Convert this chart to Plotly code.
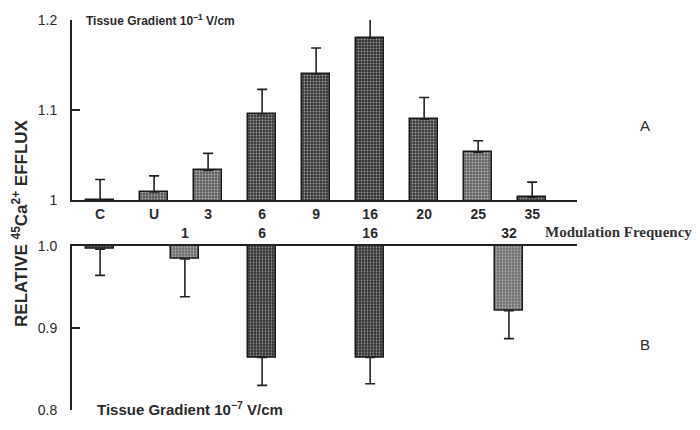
import plotly.graph_objects as go

# Panel A: 10^-1 V/cm tissue gradient, modulation frequencies
a_labels = ["C", "U", "3", "6", "9", "16", "20", "25", "35"]
a_pos = [0, 1, 2, 3, 4, 5, 6, 7, 8]
a_vals = [1.000, 1.009, 1.033, 1.096, 1.140, 1.180, 1.090, 1.053, 1.003]
a_err = [0.023, 0.018, 0.019, 0.027, 0.029, 0.026, 0.024, 0.013, 0.017]
a_colors = ["#3a3a3a", "#585858", "#606060", "#3a3a3a", "#383838",
            "#333333", "#3c3c3c", "#646464", "#3a3a3a"]

# Panel B: 10^-7 V/cm tissue gradient
b_labels = ["", "1", "6", "16", "32"]
b_pos = [0, 1.57, 3, 5, 7.57]
b_vals = [0.996, 0.984, 0.864, 0.864, 0.921]
b_err = [0.032, 0.046, 0.034, 0.032, 0.034]
b_colors = ["#3a3a3a", "#6c6c6c", "#323232", "#323232", "#6e6e6e"]

INK = "#222222"
FONT = "Liberation Sans, Arial, sans-serif"
stipple = dict(shape=".", fgcolor="#8a8a8a", size=3, solidity=0.3)

fig = go.Figure()

# Panel A bars, drawn from zero and clipped at the 1.0 baseline
fig.add_trace(go.Bar(
    x=a_pos, y=a_vals, width=0.52,
    marker=dict(color=a_colors, line=dict(color="#1a1a1a", width=1.5), pattern=stipple),
    xaxis="x", yaxis="y", showlegend=False,
))
fig.add_trace(go.Scatter(
    x=a_pos, y=a_vals, mode="markers", marker=dict(size=0.1, color=INK),
    error_y=dict(type="data", symmetric=False, array=a_err,
                 arrayminus=[0] * len(a_err), color=INK, thickness=1.6, width=5),
    xaxis="x", yaxis="y", showlegend=False, cliponaxis=False,
))

# Panel B bars hang downward from the 1.0 baseline
fig.add_trace(go.Bar(
    x=b_pos, y=[v - 1.0 for v in b_vals], base=1.0, width=0.52,
    marker=dict(color=b_colors, line=dict(color="#1a1a1a", width=1.5), pattern=stipple),
    xaxis="x2", yaxis="y2", showlegend=False,
))
fig.add_trace(go.Scatter(
    x=b_pos, y=b_vals, mode="markers", marker=dict(size=0.1, color=INK),
    error_y=dict(type="data", symmetric=False, array=[0] * len(b_err),
                 arrayminus=b_err, color=INK, thickness=1.6, width=5),
    xaxis="x2", yaxis="y2", showlegend=False, cliponaxis=False,
))

tickfont = dict(family=FONT, size=14, color="#2a2a2a")
xr = [-0.52, 8.83]

fig.update_layout(
    width=700, height=430,
    margin=dict(l=72, r=123, t=20, b=18),
    paper_bgcolor="white", plot_bgcolor="rgba(0,0,0,0)",
    bargap=0,
    xaxis=dict(domain=[0, 1], range=xr, anchor="y", side="bottom",
               tickmode="array", tickvals=a_pos,
               ticktext=[f"<b>{t}</b>" for t in a_labels],
               showline=True, linecolor=INK, linewidth=2, ticks="",
               showgrid=False, zeroline=False, tickfont=tickfont),
    yaxis=dict(domain=[0.538, 1.0], range=[1.0, 1.2], anchor="x",
               tickmode="array", tickvals=[1.0, 1.1, 1.2],
               ticktext=["1", "1.1", "1.2"],
               showline=True, linecolor=INK, linewidth=2,
               ticks="inside", ticklen=8, tickwidth=1.5, tickcolor=INK,
               ticklabelstandoff=10,
               showgrid=False, zeroline=False, tickfont=tickfont),
    xaxis2=dict(domain=[0, 1], range=xr, anchor="y2", side="top",
                tickmode="array", tickvals=b_pos,
                ticktext=[f"<b>{t}</b>" if t else "" for t in b_labels],
                showline=True, linecolor=INK, linewidth=2, ticks="",
                showgrid=False, zeroline=False, tickfont=tickfont),
    yaxis2=dict(domain=[0.0, 0.421], range=[0.8, 1.0], anchor="x2",
                tickmode="array", tickvals=[0.8, 0.9, 1.0],
                ticktext=["0.8", "0.9", "1.0"],
                showline=True, linecolor=INK, linewidth=2,
                ticks="inside", ticklen=8, tickwidth=1.5, tickcolor=INK,
                ticklabelstandoff=10,
                showgrid=False, zeroline=False, tickfont=tickfont),
)

ann = [
    dict(text="<b>Tissue Gradient 10<sup>−1</sup> V/cm</b>", x=84, y=20,
         xanchor="left", size=12),
    dict(text="<b>Tissue Gradient 10<sup>−7</sup> V/cm</b>", x=95, y=410,
         xanchor="left", size=15),
    dict(text="A", x=645, y=126, xanchor="center", size=15),
    dict(text="B", x=645, y=346, xanchor="center", size=15),
]
for a in ann:
    fig.add_annotation(
        text=a["text"], xref="paper", yref="paper",
        x=(a["x"] - 72) / 505, y=(412 - a["y"]) / 392,
        xanchor=a["xanchor"], yanchor="middle", showarrow=False,
        font=dict(family=FONT, size=a["size"], color="#2a2a2a"),
    )

fig.add_annotation(
    text="<b>Modulation Frequency</b>", xref="paper", yref="paper",
    x=(543 - 72) / 505, y=(412 - 233) / 392, xanchor="left", yanchor="middle",
    showarrow=False,
    font=dict(family="Liberation Serif, Times New Roman, serif", size=15, color="#333333"),
)
fig.add_annotation(
    text="<b>RELATIVE <sup>45</sup>Ca<sup>2+</sup> EFFLUX</b>", xref="paper", yref="paper",
    x=(20 - 72) / 505, y=(412 - 224) / 392, xanchor="center", yanchor="middle",
    textangle=-90, showarrow=False,
    font=dict(family=FONT, size=17, color="#2a2a2a"),
)

fig.write_html("out.html")
